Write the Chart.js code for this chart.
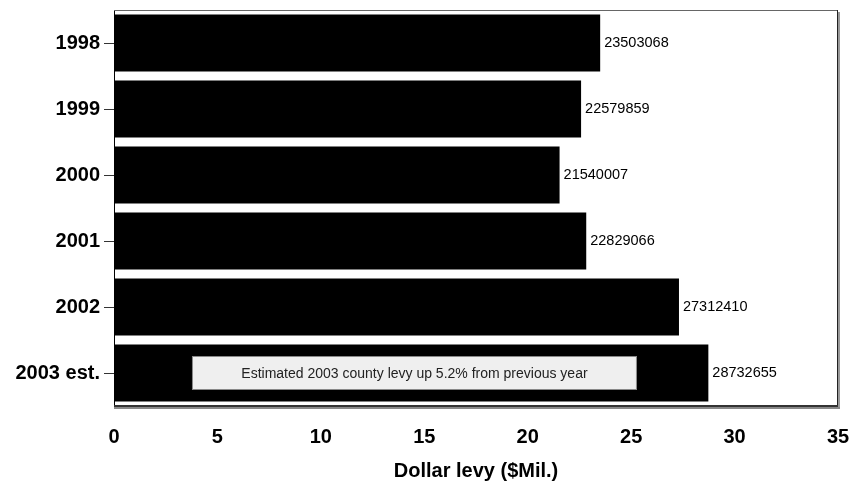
<!DOCTYPE html>
<html>
<head>
<meta charset="utf-8">
<script src="https://cdn.jsdelivr.net/npm/chart.js@4/dist/chart.umd.min.js"></script>
<style>
    html, body { margin: 0; padding: 0; background: #fff; }
    #wrap { width: 853px; height: 483px; position: relative; }
</style>
</head>
<body>
<div id="wrap"><canvas id="levyChart"></canvas></div>
<script>
// Data (levy in dollars, plotted in $Mil.)
const years = ['1998', '1999', '2000', '2001', '2002', '2003 est.'];
const levyDollars = [23503068, 22579859, 21540007, 22829066, 27312410, 28732655];
const levyMil = levyDollars.map(v => v / 1000000);
const xTicks = [0, 5, 10, 15, 20, 25, 30, 35];

const noteText = 'Estimated 2003 county levy up 5.2% from previous year';
const noteRange = [3.77, 25.28];   // in $Mil. along the x axis
const noteIndex = 5;                // drawn on the 2003 est. bar

const FONT = '"Liberation Sans", Arial, sans-serif';

// Frame round the plot area (top/right thin, bottom heavy with shadow)
const framePlugin = {
    id: 'frame',
    afterDraw(chart) {
        const a = chart.chartArea;
        const ctx = chart.ctx;
        ctx.save();
        ctx.lineWidth = 1;
        ctx.strokeStyle = '#666';
        ctx.beginPath();
        ctx.moveTo(a.left, a.top + 0.5);
        ctx.lineTo(a.right, a.top + 0.5);
        ctx.stroke();
        // right edge + shadow
        ctx.strokeStyle = '#999';
        ctx.lineWidth = 2;
        ctx.beginPath();
        ctx.moveTo(a.right + 1, a.top + 2);
        ctx.lineTo(a.right + 1, a.bottom + 2);
        ctx.stroke();
        ctx.strokeStyle = '#222';
        ctx.lineWidth = 1;
        ctx.beginPath();
        ctx.moveTo(a.right - 0.5, a.top);
        ctx.lineTo(a.right - 0.5, a.bottom);
        ctx.stroke();
        // bottom edge + shadow
        ctx.strokeStyle = '#888';
        ctx.lineWidth = 2;
        ctx.beginPath();
        ctx.moveTo(a.left, a.bottom + 2);
        ctx.lineTo(a.right + 2, a.bottom + 2);
        ctx.stroke();
        ctx.strokeStyle = '#333';
        ctx.lineWidth = 2;
        ctx.beginPath();
        ctx.moveTo(a.left, a.bottom);
        ctx.lineTo(a.right, a.bottom);
        ctx.stroke();
        ctx.restore();
    }
};

// Raw dollar figures to the right of each bar
const valueLabels = {
    id: 'valueLabels',
    afterDatasetsDraw(chart) {
        const ctx = chart.ctx;
        const meta = chart.getDatasetMeta(0);
        ctx.save();
        ctx.font = '14.5px ' + FONT;
        ctx.fillStyle = '#000';
        ctx.textAlign = 'left';
        ctx.textBaseline = 'middle';
        meta.data.forEach(function (bar, i) {
            ctx.fillText(String(levyDollars[i]), bar.x + 4, bar.y);
        });
        ctx.restore();
    }
};

// Grey note box over the last bar
const noteBox = {
    id: 'noteBox',
    afterDatasetsDraw(chart) {
        const ctx = chart.ctx;
        const x = chart.scales.x;
        const bar = chart.getDatasetMeta(0).data[noteIndex];
        const x0 = x.getPixelForValue(noteRange[0]);
        const x1 = x.getPixelForValue(noteRange[1]);
        const h = 34;
        const y0 = bar.y - h / 2;
        ctx.save();
        ctx.fillStyle = '#efefef';
        ctx.fillRect(x0, y0, x1 - x0, h);
        ctx.strokeStyle = '#888';
        ctx.lineWidth = 1;
        ctx.strokeRect(x0 + 0.5, y0 + 0.5, x1 - x0 - 1, h - 1);
        ctx.font = '14px ' + FONT;
        ctx.fillStyle = '#222';
        ctx.textAlign = 'center';
        ctx.textBaseline = 'middle';
        ctx.fillText(noteText, (x0 + x1) / 2, bar.y + 1);
        ctx.restore();
    }
};

new Chart(document.getElementById('levyChart'), {
    type: 'bar',
    data: {
        labels: years,
        datasets: [{
            data: levyMil,
            backgroundColor: '#000',
            borderWidth: 0,
            categoryPercentage: 1,
            barPercentage: 0.86
        }]
    },
    options: {
        indexAxis: 'y',
        responsive: true,
        maintainAspectRatio: false,
        animation: false,
        layout: { padding: 0 },
        plugins: {
            legend: { display: false },
            tooltip: { enabled: false }
        },
        scales: {
            x: {
                min: 0, max: 35,
                afterBuildTicks: function (scale) {
                    scale.ticks = xTicks.map(v => ({ value: v }));
                },
                grid: { display: false, drawTicks: false },
                border: { display: false },
                ticks: {
                    padding: 19,
                    color: '#000',
                    font: { family: FONT, size: 20, weight: 'bold' }
                },
                title: {
                    display: true,
                    text: 'Dollar levy ($Mil.)',
                    color: '#000',
                    padding: { top: 12, bottom: 0 },
                    font: { family: FONT, size: 20, weight: 'bold' }
                },
                afterFit: function (scale) {
                    scale.height = 77;
                    scale.paddingLeft = 0;
                    scale.paddingRight = 15;
                }
            },
            y: {
                grid: { drawOnChartArea: false, tickLength: 10, color: '#333', offset: false },
                border: { display: true, color: '#000', width: 1 },
                ticks: {
                    padding: 4,
                    color: '#000',
                    font: { family: FONT, size: 20, weight: 'bold' }
                },
                afterFit: function (scale) {
                    scale.width = 114;
                    scale.paddingTop = 10;
                    scale.paddingBottom = 0;
                }
            }
        }
    },
    plugins: [framePlugin, valueLabels, noteBox]
});
</script>
</body>
</html>
